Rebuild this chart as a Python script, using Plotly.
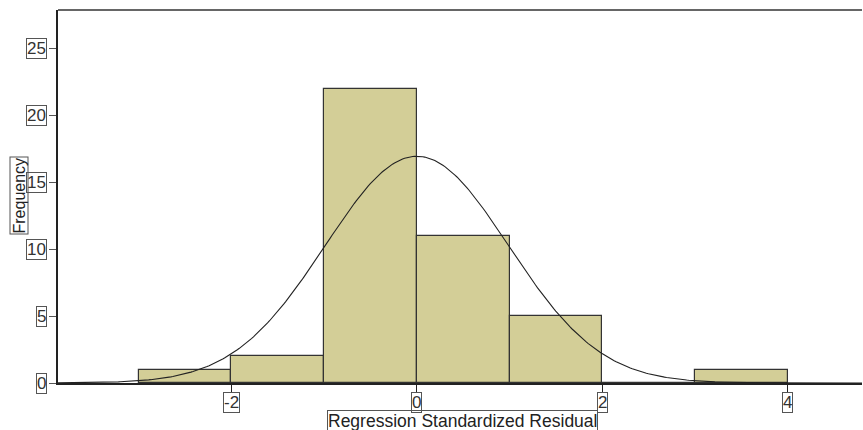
import numpy as np
import plotly.graph_objects as go

# Data
bin_left = [-3, -2, -1, 0, 1, 2, 3]
counts = [1, 2, 22, 11, 5, 0, 1]
bin_width = 1.0
resid_mean = 0.0
resid_std = 0.988
n_obs = sum(counts)
x_ticks = [-2, 0, 2, 4]
y_ticks = [0, 5, 10, 15, 20, 25]

bar_color = "#D3CE97"
font_family = "Liberation Sans, Arial, sans-serif"

centers = [b + bin_width / 2 for b in bin_left]

XR = [-3.87, 4.8]
YR = [0, 27.9]

xs = np.linspace(XR[0], XR[1], 400)
ys = n_obs * bin_width / (resid_std * np.sqrt(2 * np.pi)) * np.exp(-0.5 * ((xs - resid_mean) / resid_std) ** 2)

fig = go.Figure()
fig.add_trace(go.Bar(
    x=centers, y=counts, width=bin_width,
    marker=dict(color=bar_color, line=dict(color="#333333", width=1.2)),
    hoverinfo="skip", showlegend=False,
))
fig.add_trace(go.Scatter(
    x=xs, y=ys, mode="lines",
    line=dict(color="#222222", width=1.1),
    hoverinfo="skip", showlegend=False,
))

L, R, T, B = 58, 1, 10, 47
W, H = 863, 430
pw, ph = W - L - R, H - T - B

fig.update_layout(
    width=W, height=H,
    margin=dict(l=L, r=R, t=T, b=B, autoexpand=False),
    paper_bgcolor="white", plot_bgcolor="white",
    font=dict(family=font_family, size=14, color="#333333"),
    bargap=0,
    xaxis=dict(range=XR, showgrid=False, zeroline=False, showline=True,
               linecolor="#222222", linewidth=1.5, automargin=False,
               tickvals=x_ticks, ticks="outside", ticklen=7, tickcolor="#222222",
               showticklabels=False),
    yaxis=dict(range=YR, showgrid=False, zeroline=False, showline=True,
               linecolor="#222222", linewidth=1.5, automargin=False,
               tickvals=y_ticks, ticks="outside", ticklen=7, tickcolor="#555555",
               showticklabels=False),
)

# top border
fig.add_shape(type="line", xref="paper", yref="paper", x0=0, x1=1, y0=1, y1=1,
              line=dict(color="#333333", width=1.5))

box = dict(bordercolor="#555555", borderwidth=1, borderpad=0, bgcolor="rgba(0,0,0,0)")

fig.add_annotation(xref="paper", yref="paper", x=-(L - 18.5) / pw, y=((H - B) - 196) / ph,
                   text="Frequency", textangle=-90, showarrow=False,
                   xanchor="center", yanchor="middle",
                   font=dict(size=16, color="#222222", family=font_family), **box)
fig.add_annotation(xref="paper", yref="paper", x=(463 - L) / pw, y=-(421 - (H - B)) / ph,
                   text="Regression Standardized Residual", showarrow=False,
                   xanchor="center", yanchor="middle",
                   font=dict(size=17.5, color="#222222", family=font_family), **box)

for t in x_ticks:
    fig.add_annotation(x=t, y=0, xref="x", yref="paper", text=str(t),
                       showarrow=False, yanchor="top", yshift=-9,
                       font=dict(size=17, color="#333333", family=font_family), **box)
for t in y_ticks:
    fig.add_annotation(x=0, y=t, xref="paper", yref="y", text=str(t),
                       showarrow=False, xanchor="right", xshift=-11,
                       font=dict(size=17, color="#333333", family=font_family), **box)

fig.write_html("out.html", post_script="document.body.style.margin='0';",
               config={"displayModeBar": False})
